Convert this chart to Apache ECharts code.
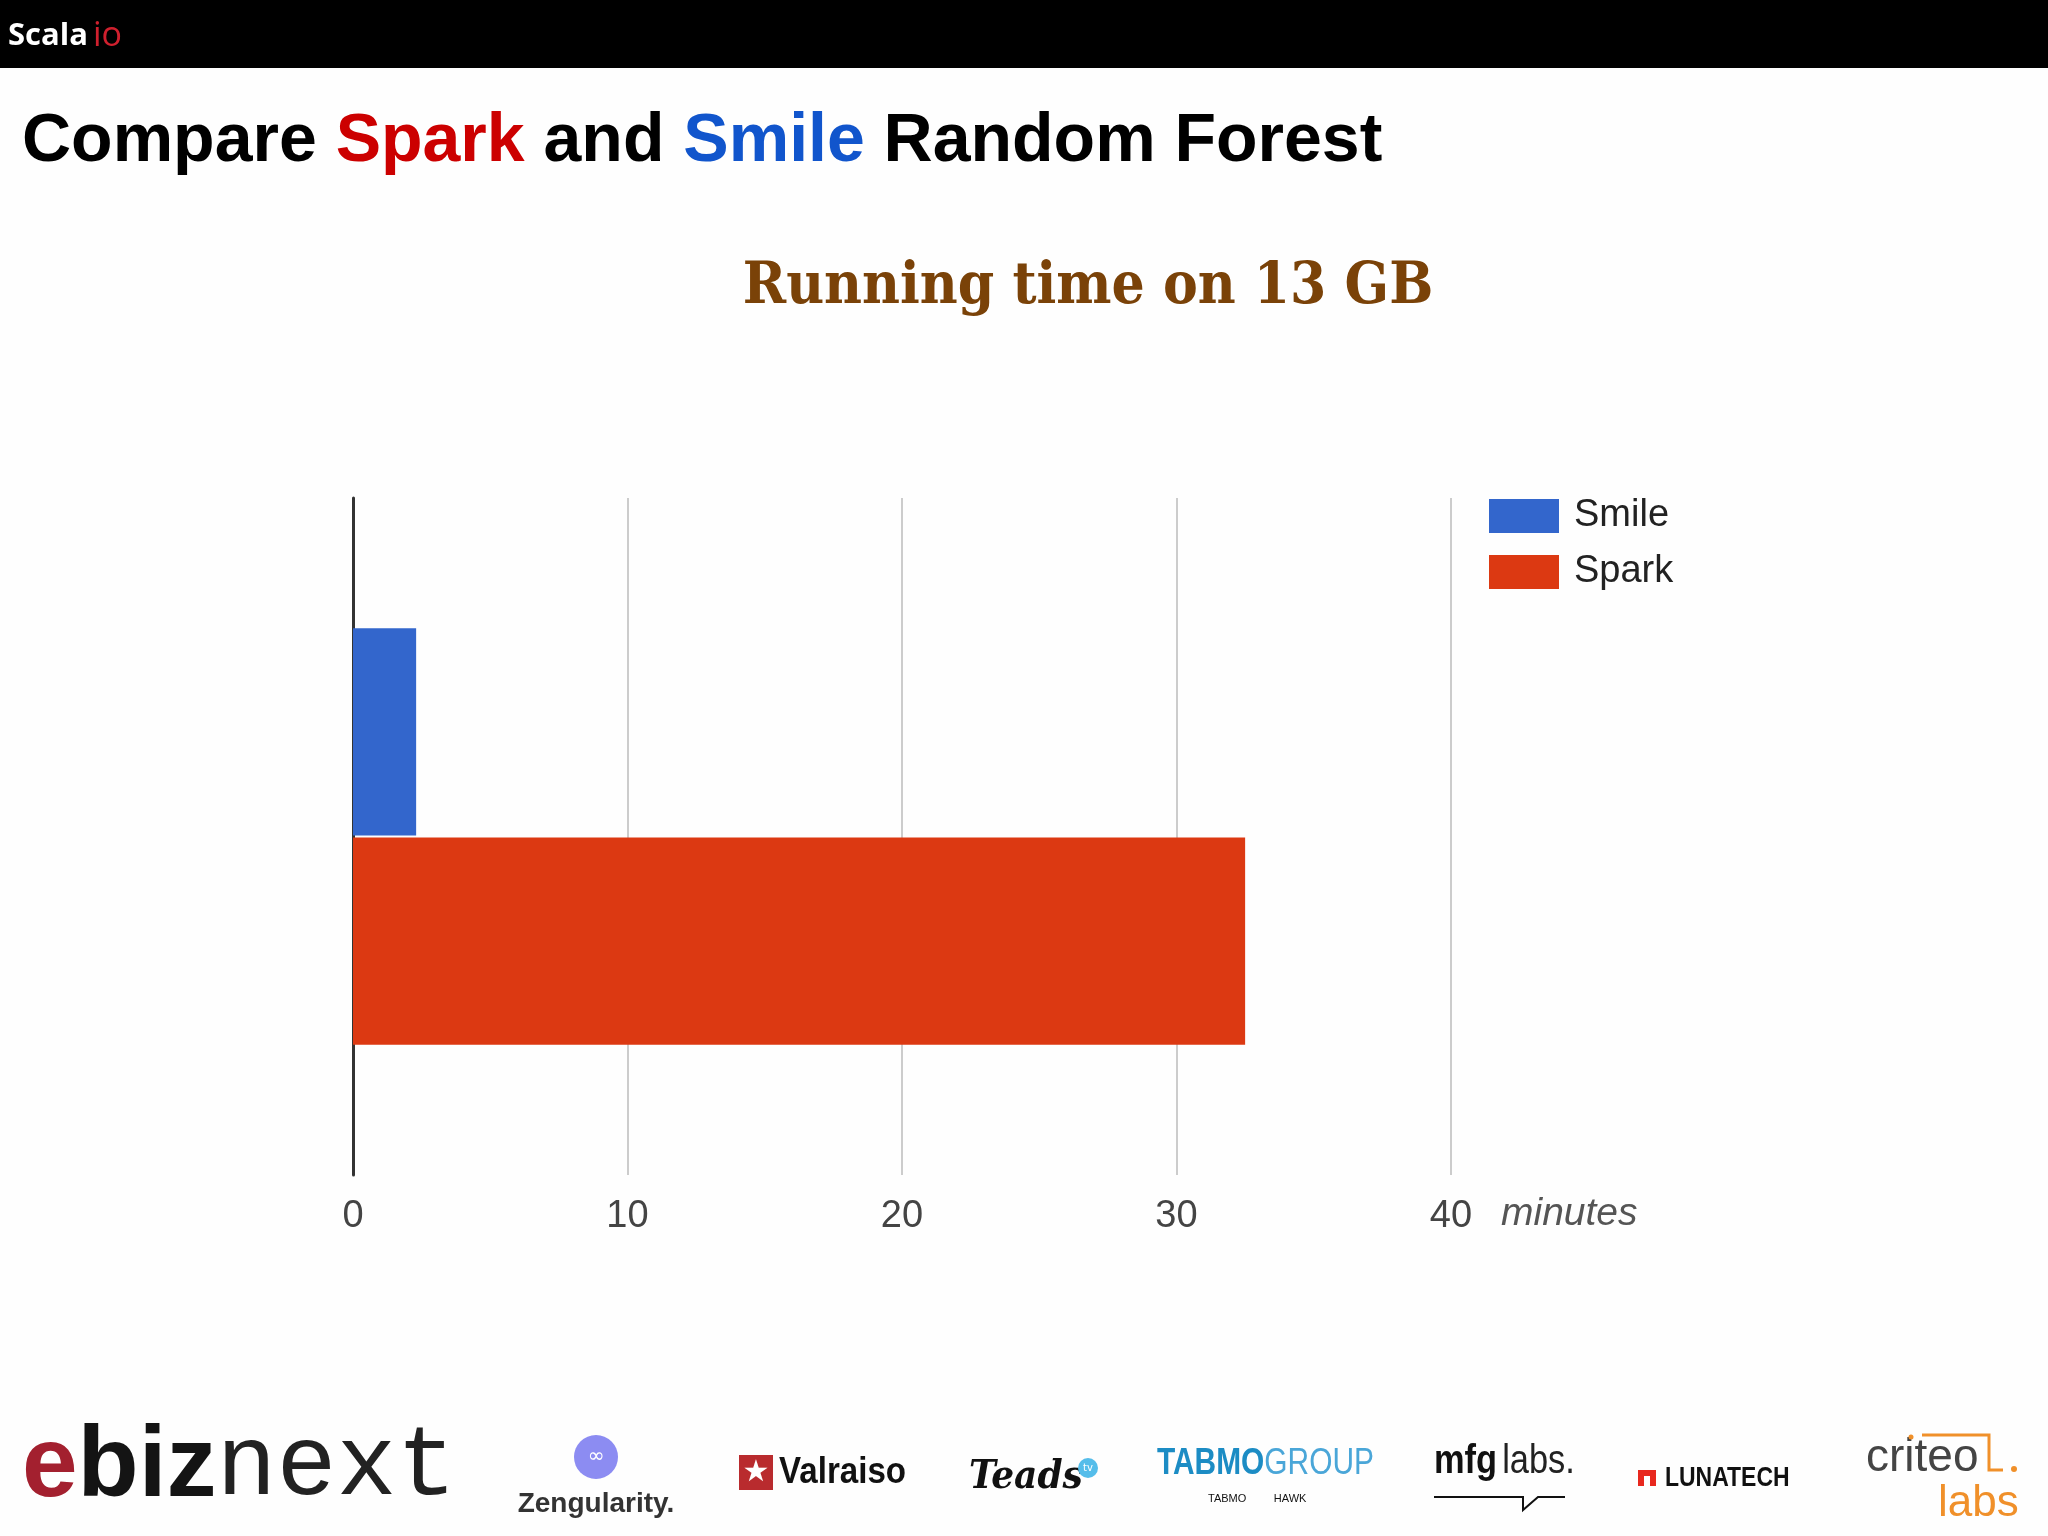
<!DOCTYPE html>
<html><head><meta charset="utf-8">
<script src="https://cdn.jsdelivr.net/npm/echarts@6/dist/echarts.min.js"></script>
<style>html,body{margin:0;padding:0;background:#fefefe}#c{width:2048px;height:1536px}</style>
</head><body><div id="c"></div>
<script>
// ---- data ----
const categories = ['13 GB'];
const seriesNames = ['Smile', 'Spark'];
const smileMinutes = [2.3];
const sparkMinutes = [32.5];
const xMin = 0, xMax = 40, xInterval = 10;
const xAxisName = 'minutes';
const pageTitleParts = ['Compare ', 'Spark', ' and ', 'Smile', ' Random Forest'];
const chartTitle = 'Running time on 13 GB';

const chart = echarts.init(document.getElementById('c'), null, {renderer: 'canvas'});
const sans = '"Liberation Sans", Arial, sans-serif';

const graphics = [
  {type: 'rect', shape: {x: 0, y: 0, width: 2048, height: 68}, style: {fill: '#000'}, z: 0},
  {type: 'text', x: 8, y: 36, style: {
    text: '{w|Scala}{r|io}', verticalAlign: 'middle',
    rich: {
      w: {fill: '#fff', fontSize: 31, fontWeight: 'bold', fontFamily: '"Open Sans", sans-serif'},
      r: {fill: '#d0202e', fontSize: 34, fontWeight: 'normal', fontFamily: '"Open Sans", sans-serif', padding: [0, 0, 0, 5]}
    }}},
  {type: 'text', x: 22, y: 142, style: {
    text: '{b|' + pageTitleParts[0] + '}{r|' + pageTitleParts[1] + '}{b|' + pageTitleParts[2] + '}{u|' + pageTitleParts[3] + '}{b|' + pageTitleParts[4] + '}',
    verticalAlign: 'middle',
    rich: {
      b: {fill: '#000', fontSize: 68, fontWeight: 'bold', fontFamily: sans},
      r: {fill: '#cc0000', fontSize: 68, fontWeight: 'bold', fontFamily: sans},
      u: {fill: '#1155cc', fontSize: 68, fontWeight: 'bold', fontFamily: sans}
    }}},
  {type: 'text', x: 1088, y: 288, style: {
    text: chartTitle, align: 'center', verticalAlign: 'middle',
    fill: '#7a4208', fontSize: 58, fontWeight: 'bold', fontFamily: '"DejaVu Serif Condensed", "DejaVu Serif", serif'}},
  // ---- sponsor logos (as text) ----
  {type: 'text', x: 22, y: 1468, style: {
    text: '{e|e}{b|biz}{n|next}', verticalAlign: 'middle',
    rich: {
      e: {fill: '#a3202f', fontSize: 100, fontWeight: 'bold', fontFamily: sans},
      b: {fill: '#141414', fontSize: 100, fontWeight: 'bold', fontFamily: sans},
      n: {fill: '#222', fontSize: 100, fontFamily: '"Liberation Mono", "DejaVu Sans Mono", monospace'}
    }}},
  {type: 'circle', shape: {cx: 596, cy: 1457, r: 22}, style: {fill: '#8c8cf2'}},
  {type: 'text', x: 596, y: 1457, style: {text: '∞', align: 'center', verticalAlign: 'middle', fill: '#fff', fontSize: 20, fontFamily: '"DejaVu Sans", sans-serif'}},
  {type: 'text', x: 596, y: 1504, style: {text: 'Zengularity.', align: 'center', verticalAlign: 'middle', fill: '#333', fontSize: 28, fontWeight: 'bold', fontFamily: sans}},
  {type: 'rect', shape: {x: 739, y: 1455, width: 34, height: 35}, style: {fill: '#b92b2e'}},
  {type: 'text', x: 756, y: 1473, style: {text: '★', align: 'center', verticalAlign: 'middle', fill: '#fff', fontSize: 30, fontFamily: '"DejaVu Sans", sans-serif'}},
  {type: 'text', x: 779, y: 1473, scaleX: 0.92, style: {text: 'Valraiso', verticalAlign: 'middle', fill: '#111', fontSize: 36, fontWeight: 'bold', fontFamily: sans}},
  {type: 'text', x: 969, y: 1478, style: {text: 'Teads', verticalAlign: 'middle', fill: '#111', fontSize: 40, fontWeight: 'bold', fontStyle: 'italic', fontFamily: '"DejaVu Serif Condensed", "DejaVu Serif", serif'}},
  {type: 'circle', shape: {cx: 1088, cy: 1468, r: 10}, style: {fill: '#55bdea'}},
  {type: 'text', x: 1088, y: 1468, style: {text: 'tv', align: 'center', verticalAlign: 'middle', fill: '#fff', fontSize: 10, fontFamily: '"DejaVu Sans", sans-serif'}},
  {type: 'text', x: 1157, y: 1464, scaleX: 0.83, style: {
    text: '{a|TABMO}{b|GROUP}', verticalAlign: 'middle',
    rich: {
      a: {fill: '#1c8cc4', fontSize: 36, fontWeight: 'bold', fontFamily: sans},
      b: {fill: '#4aa6d8', fontSize: 36, fontWeight: 'normal', fontFamily: sans}
    }}},
  {type: 'text', x: 1208, y: 1499, style: {text: 'TABMO         HAWK', verticalAlign: 'middle', fill: '#111', fontSize: 11, fontFamily: sans}},
  {type: 'text', x: 1434, y: 1462, scaleX: 0.86, style: {
    text: '{a|mfg}{b|labs.}', verticalAlign: 'middle',
    rich: {
      a: {fill: '#111', fontSize: 40, fontWeight: 'bold', fontFamily: sans, padding: [0, 6, 0, 0]},
      b: {fill: '#222', fontSize: 40, fontWeight: 'normal', fontFamily: sans}
    }}},
  {type: 'polyline', shape: {points: [[1434, 1497], [1523, 1497], [1523, 1510], [1538, 1497], [1565, 1497]]}, style: {stroke: '#111', lineWidth: 2, fill: null}},
  {type: 'rect', shape: {x: 1638, y: 1470, width: 18, height: 16}, style: {fill: '#e8281e'}},
  {type: 'rect', shape: {x: 1644, y: 1476, width: 6, height: 10}, style: {fill: '#fefefe'}},
  {type: 'text', x: 1665, y: 1478, scaleX: 0.82, style: {text: 'LUNATECH', verticalAlign: 'middle', fill: '#111', fontSize: 28, fontWeight: 'bold', fontFamily: sans}},
  {type: 'text', x: 1866, y: 1458, style: {text: 'criteo', verticalAlign: 'middle', fill: '#444', fontSize: 46, fontFamily: sans}},
  {type: 'circle', shape: {cx: 1911, cy: 1437, r: 2.5}, style: {fill: '#f0902a'}},
  {type: 'circle', shape: {cx: 2014, cy: 1469, r: 3}, style: {fill: '#f0902a'}},
  {type: 'polyline', shape: {points: [[1922, 1435], [1989, 1435], [1989, 1470], [2003, 1470]]}, style: {stroke: '#f0902a', lineWidth: 3, fill: null}},
  {type: 'text', x: 1938, y: 1504, style: {text: 'labs', verticalAlign: 'middle', fill: '#f0902a', fontSize: 44, fontFamily: sans}}
];

const option = {
  backgroundColor: '#fefefe',
  animation: false,
  grid: {left: 353, right: 2048 - 1451, top: 498, height: 677, containLabel: false},
  legend: {
    data: seriesNames,
    orient: 'vertical', left: 1484, top: 492,
    icon: 'rect', itemWidth: 70, itemHeight: 34, itemGap: 18,
    textStyle: {fontSize: 38, color: '#222', fontFamily: sans, padding: [0, 0, 0, 10]}
  },
  xAxis: {
    type: 'value', min: xMin, max: xMax, interval: xInterval,
    axisLine: {show: false}, axisTick: {show: false},
    splitLine: {show: true, lineStyle: {color: '#cccccc', width: 2}},
    axisLabel: {fontSize: 38, color: '#444', fontFamily: sans, margin: 23},
    name: xAxisName, nameLocation: 'end', nameGap: 50,
    nameTextStyle: {fontSize: 39, color: '#555', fontStyle: 'italic', fontFamily: sans, verticalAlign: 'top', align: 'left', padding: [20, 0, 0, 0]}
  },
  yAxis: {
    type: 'category', data: categories, inverse: true,
    axisLine: {show: true, lineStyle: {color: '#333', width: 3}},
    axisTick: {show: false}, axisLabel: {show: false}, splitLine: {show: false}
  },
  series: [
    {name: seriesNames[0], type: 'bar', data: smileMinutes, itemStyle: {color: '#3366cc'}, barGap: '1%', barCategoryGap: '38.5%'},
    {name: seriesNames[1], type: 'bar', data: sparkMinutes, itemStyle: {color: '#dc3912'}, barGap: '1%', barCategoryGap: '38.5%'}
  ],
  graphic: graphics
};
chart.setOption(option);
</script>
</body></html>
